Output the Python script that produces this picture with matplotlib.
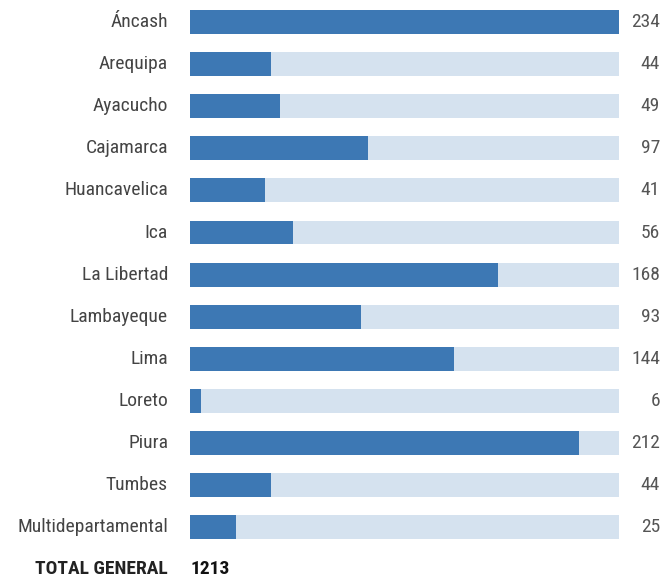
import matplotlib.pyplot as plt
from matplotlib import font_manager

departamentos = ["Áncash", "Arequipa", "Ayacucho", "Cajamarca", "Huancavelica", "Ica",
                 "La Libertad", "Lambayeque", "Lima", "Loreto", "Piura", "Tumbes",
                 "Multidepartamental"]
casos = [234, 44, 49, 97, 41, 56, 168, 93, 144, 6, 212, 44, 25]
total_label = "TOTAL GENERAL"
total = 1213

# condensed font like the original if there is one
names = {f.name for f in font_manager.fontManager.ttflist}
fams = [f for f in ["Roboto Condensed", "Archivo Narrow", "PT Sans Narrow", "Liberation Sans Narrow"] if f in names]
plt.rcParams['font.family'] = fams[:1] + ['DejaVu Sans']

W, H = 671, 579
fig = plt.figure(figsize=(W / 100, H / 100), dpi=100)
ax = fig.add_axes([190 / W, 0, 429 / W, 1])

step = 42.1
top_px = 22
ax.set_ylim((H - top_px) / step, -top_px / step)
vmax = max(casos)
ax.set_xlim(0, vmax)

ys = list(range(len(casos)))
ax.barh(ys, [vmax] * len(casos), height=0.57, color="#d5e2ef")
ax.barh(ys, casos, height=0.57, color="#3d78b4")

for y, name, v in zip(ys, departamentos, casos):
    ax.text(-22 / 429 * vmax, y, name, ha="right", va="center", fontsize=14, color="#444444")
    ax.text(vmax + 41 / 429 * vmax, y, str(v), ha="right", va="center", fontsize=14, color="#555555")

ty = len(casos)
ax.text(-22 / 429 * vmax, ty, total_label, ha="right", va="center", fontsize=14,
        fontweight="bold", color="#222222")
ax.text(0, ty, str(total), ha="left", va="center", fontsize=14, fontweight="bold", color="#111111")

ax.axis("off")
fig.savefig("out.png", dpi=100)
